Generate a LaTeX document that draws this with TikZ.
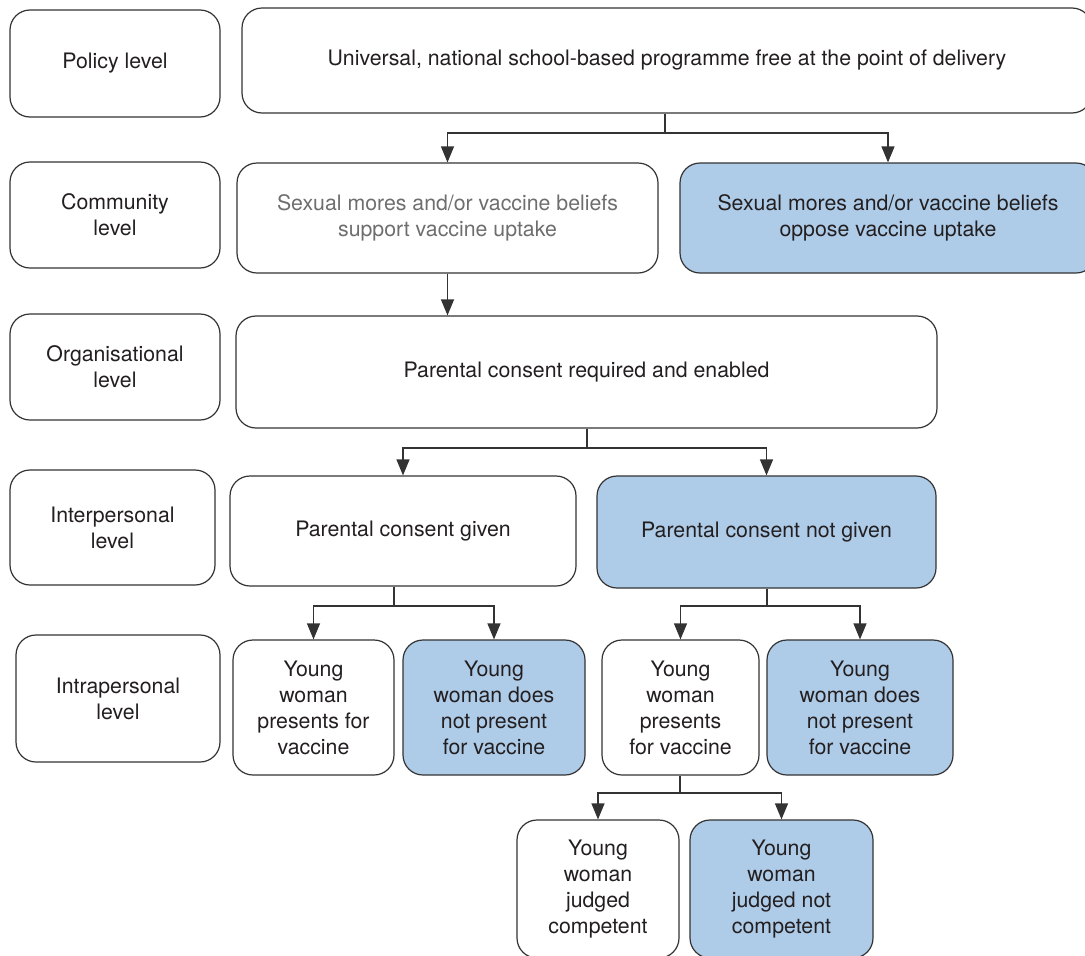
\documentclass[tikz,border=0pt]{standalone}
\usepackage{fontspec}
\setmainfont{TeX Gyre Heros}
\usetikzlibrary{arrows.meta,calc}
\definecolor{lineC}{HTML}{333333}
\definecolor{txtC}{HTML}{231F20}
\definecolor{greyT}{HTML}{6E6E6E}
\definecolor{blueF}{HTML}{AECBE8}
\tikzset{
  box/.style={draw=lineC, line width=1.2pt, rounded corners=20pt, fill=white, text=txtC,
    align=center, inner sep=0pt, font=\fontsize{21.3}{26}\selectfont},
  bluebox/.style={box, fill=blueF},
  arr/.style={draw=lineC, line width=1.2pt, -{Triangle[length=16pt,width=13pt]}},
  ln/.style={draw=lineC, line width=1.2pt}
}
\begin{document}
\begin{tikzpicture}[x=1pt,y=-1pt]
\useasboundingbox (0,0) rectangle (1085,956);
\clip (0,0) rectangle (1085,956);
% level boxes
\node[box, minimum width=210, minimum height=107] (pol) at (115,63.5) {Policy level};
\node[box, minimum width=210, minimum height=106] (com) at (115,215) {Community\\level};
\node[box, minimum width=210, minimum height=106] (org) at (115,367) {Organisational\\level};
\node[box, minimum width=205, minimum height=115] (inter) at (112.5,527.5) {Interpersonal\\level};
\node[box, minimum width=204, minimum height=127] (intra) at (118,698.5) {Intrapersonal\\level};
% main boxes
\node[box, minimum width=850, minimum height=105] (uni) at (667,60.5) {Universal, national school-based programme free at the point of delivery};
\node[box, text=greyT, minimum width=421, minimum height=110] (sup) at (447.5,218) {Sexual mores and/or vaccine beliefs\\support vaccine uptake};
\node[bluebox, minimum width=416, minimum height=110] (opp) at (888,218) {Sexual mores and/or vaccine beliefs\\oppose vaccine uptake};
\node[box, minimum width=701, minimum height=112] (req) at (586.5,372) {Parental consent required and enabled};
\node[box, minimum width=346, minimum height=110] (giv) at (403,531) {Parental consent given};
\node[bluebox, minimum width=339, minimum height=112] (ngiv) at (766.5,532) {Parental consent not given};
\node[box, minimum width=161, minimum height=135] (yp1) at (313.5,707.5) {Young\\woman\\presents for\\vaccine};
\node[bluebox, minimum width=182, minimum height=135] (nyp1) at (494,707.5) {Young\\woman does\\not present\\for vaccine};
\node[box, minimum width=157, minimum height=135] (yp2) at (680.5,707.5) {Young\\woman\\presents\\for vaccine};
\node[bluebox, minimum width=186, minimum height=135] (nyp2) at (860,707.5) {Young\\woman does\\not present\\for vaccine};
\node[box, minimum width=162, minimum height=138] (comp) at (598,889) {Young\\woman\\judged\\competent};
\node[bluebox, minimum width=183, minimum height=138] (ncomp) at (781.5,889) {Young\\woman\\judged not\\competent};
% connectors
\coordinate (b1) at (665,133);
\draw[ln] (b1 |- uni.south) -- (b1);
\draw[arr] (b1) -| (sup.north);
\draw[arr] (b1) -| (opp.north);
\draw[arr] (sup.south) -- (sup.south |- req.north);
\coordinate (b2) at (587,448);
\draw[ln] (b2 |- req.south) -- (b2);
\draw[arr] (b2) -| (giv.north);
\draw[arr] (b2) -| (ngiv.north);
\coordinate (b3) at (394,606);
\draw[ln] (b3 |- giv.south) -- (b3);
\draw[arr] (b3) -| (yp1.north);
\draw[arr] (b3) -| (nyp1.north);
\coordinate (b4) at (767,606);
\draw[ln] (b4 |- ngiv.south) -- (b4);
\draw[arr] (b4) -| (yp2.north);
\draw[arr] (b4) -| (nyp2.north);
\coordinate (b5) at (680,793);
\draw[ln] (b5 |- yp2.south) -- (b5);
\draw[arr] (b5) -| (comp.north);
\draw[arr] (b5) -| (ncomp.north);
\end{tikzpicture}
\end{document}
